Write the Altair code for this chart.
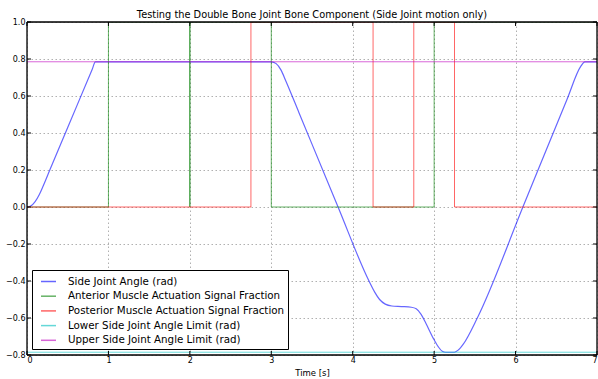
import altair as alt
import pandas as pd

# Side joint angle trajectory (rad) over time (s)
time_s = [0, 0.05, 0.1, 0.15, 0.2, 0.28, 0.5, 0.8, 0.84, 2.0, 3.0, 3.06, 3.12, 3.18,
          3.34, 3.82, 4.2, 4.27, 4.33, 4.4, 4.48, 4.6, 4.72, 4.78, 4.84, 4.9,
          4.99, 5.05, 5.1, 5.14, 5.25, 5.3, 5.36, 5.53, 6.09, 6.63, 6.8, 6.85, 7.0]
side_angle = [0, 0.007, 0.029, 0.066, 0.115, 0.2, 0.43, 0.743, 0.785, 0.785, 0.785, 0.775,
              0.74, 0.68, 0.51, 0.0, -0.40, -0.46, -0.5, -0.525, -0.535, -0.538,
              -0.542, -0.55, -0.58, -0.63, -0.71, -0.755, -0.78, -0.785, -0.785,
              -0.772, -0.74, -0.6, 0.0, 0.58, 0.76, 0.785, 0.785]

# Muscle actuation signals (step functions)
anterior_t = [0, 1, 1, 2, 2, 2, 3, 3, 5, 5, 7]
anterior_v = [0, 0, 1, 1, 0, 1, 1, 0, 0, 1, 1]
posterior_t = [0, 2.75, 2.75, 4.25, 4.25, 4.75, 4.75, 5.25, 5.25, 7]
posterior_v = [0, 0, 1, 1, 0, 0, 1, 1, 0, 0]

# Joint limits
limit_t = [0, 7]
lower_limit = [-0.785, -0.785]
upper_limit = [0.785, 0.785]

series_names = [
    "Side Joint Angle (rad)",
    "Anterior Muscle Actuation Signal Fraction",
    "Posterior Muscle Actuation Signal Fraction",
    "Lower Side Joint Angle Limit (rad)",
    "Upper Side Joint Angle Limit (rad)",
]
series_colors = ["#0000ff", "#008000", "#ff0000", "#00bfbf", "#bf00bf"]

x_ticks = [0, 1, 2, 3, 4, 5, 6, 7]
y_ticks = [-0.8, -0.6, -0.4, -0.2, 0.0, 0.2, 0.4, 0.6, 0.8, 1.0]
x_range = [0, 7]
y_range = [-0.8, 1.0]

W, H = 570, 333
FONT = "DejaVu Sans"

axis_common = dict(
    ticks=False, tickSize=0, domain=False, grid=True,
    gridColor="#b0b0b0", gridDash=[1.5, 2.5], gridWidth=1,
    labelFont=FONT, labelFontSize=8, labelColor="black", labelOverlap=False,
)


def frame(name, ts, vs):
    return pd.DataFrame({"t": ts, "v": vs, "series": name, "i": list(range(len(ts)))})


x_enc = alt.X(
    "t:Q",
    scale=alt.Scale(domain=x_range, nice=False, zero=False),
    axis=alt.Axis(values=x_ticks, format="d", title="Time [s]", labelPadding=1,
                  titlePadding=4, titleFont=FONT, titleFontSize=8.5,
                  titleFontWeight="normal", titleColor="black", **axis_common),
)
y_enc = alt.Y(
    "v:Q",
    scale=alt.Scale(domain=y_range, nice=False, zero=False),
    axis=alt.Axis(values=y_ticks, format=".1f", title=None, labelPadding=2, **axis_common),
)
color_enc = alt.Color(
    "series:N",
    scale=alt.Scale(domain=series_names, range=series_colors),
    legend=alt.Legend(
        title=None,
        orient="none",
        legendX=5,
        legendY=248,
        symbolType="stroke",
        symbolSize=225,
        symbolStrokeWidth=1.5,
        symbolOpacity=0.6,
        symbolOffset=5,
        labelOffset=11,
        labelFontSize=10.3,
        labelFont=FONT,
        labelColor="black",
        labelLimit=400,
        strokeColor="black",
        fillColor="white",
        padding=3,
        rowPadding=0.7,
        cornerRadius=0,
    ),
)


def line(df, interp="linear", width=1.0):
    return (
        alt.Chart(df)
        .mark_line(interpolate=interp, strokeWidth=width, opacity=0.6, clip=True)
        .encode(x=x_enc, y=y_enc, color=color_enc, order=alt.Order("i:Q"))
    )


layers = [
    line(frame(series_names[0], time_s, side_angle), "monotone", 1.2),
    line(frame(series_names[1], anterior_t, anterior_v)),
    line(frame(series_names[2], posterior_t, posterior_v)),
    line(frame(series_names[3], limit_t, lower_limit)),
    line(frame(series_names[4], limit_t, upper_limit)),
]

# Frame drawn above the data lines
frame_style = dict(color="black", strokeWidth=1.3)
layers += [
    alt.Chart(pd.DataFrame({"v": y_range})).mark_rule(**frame_style).encode(y=y_enc),
    alt.Chart(pd.DataFrame({"t": x_range})).mark_rule(**frame_style).encode(x=x_enc),
]

# Inward tick marks on all four sides
tick_style = dict(color="black", strokeWidth=1)
xt = pd.DataFrame({"t": x_ticks})
yt = pd.DataFrame({"v": y_ticks})
layers += [
    alt.Chart(xt).mark_rule(**tick_style).encode(x=x_enc, y=alt.value(H), y2=alt.value(H - 4)),
    alt.Chart(xt).mark_rule(**tick_style).encode(x=x_enc, y=alt.value(0), y2=alt.value(4)),
    alt.Chart(yt).mark_rule(**tick_style).encode(y=y_enc, x=alt.value(0), x2=alt.value(4)),
    alt.Chart(yt).mark_rule(**tick_style).encode(y=y_enc, x=alt.value(W), x2=alt.value(W - 4)),
]

chart = (
    alt.layer(*layers)
    .properties(
        width=W,
        height=H,
        autosize=alt.AutoSizeParams(type="none"),
        padding={"left": 27, "top": 22, "right": 1, "bottom": 24},
        title=alt.TitleParams(
            "Testing the Double Bone Joint Bone Component (Side Joint motion only)",
            font=FONT,
            fontSize=9.8,
            fontWeight="normal",
            color="black",
            anchor="middle",
            offset=-2,
        ),
    )
    .configure_view(stroke="black", strokeWidth=1)
    .configure(background="white")
)

chart.save("out.html", embed_options={"renderer": "svg", "actions": False})
